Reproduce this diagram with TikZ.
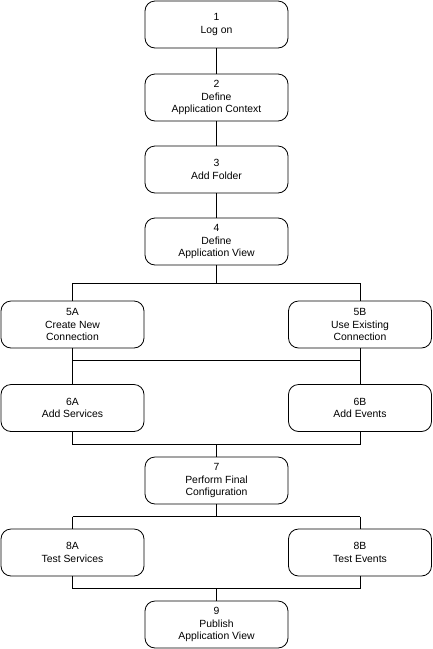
\documentclass[tikz,border=0pt]{standalone}
\usepackage{fontspec}
\setmainfont{Liberation Sans}
\begin{document}
\begin{tikzpicture}[x=1pt,y=-1pt,
  stepbox/.style={draw=black,line width=0.8pt,rounded corners=10pt,minimum width=143pt,minimum height=47pt,align=center,inner sep=1pt,font=\fontsize{10.4}{12.6}\selectfont},
  conn/.style={draw=black,line width=0.8pt}]
\useasboundingbox[fill=white] (0,0) rectangle (433,649);
\node[stepbox] (n1) at (216.5,24.5) {1\\Log on};
\node[stepbox] (n2) at (216.5,97.5) {2\\Define\\Application Context};
\node[stepbox] (n3) at (216.5,169.5) {3\\Add Folder};
\node[stepbox] (n4) at (216.5,241.5) {4\\Define\\Application View};
\node[stepbox] (n5a) at (72.5,324.5) {5A\\Create New\\Connection};
\node[stepbox] (n5b) at (360,324.5) {5B\\Use Existing\\Connection};
\node[stepbox] (n6a) at (72.5,408) {6A\\Add Services};
\node[stepbox] (n6b) at (360,408) {6B\\Add Events};
\node[stepbox] (n7) at (216.5,480.5) {7\\Perform Final\\Configuration};
\node[stepbox] (n8a) at (72.5,552.5) {8A\\Test Services};
\node[stepbox] (n8b) at (360,552.5) {8B\\Test Events};
\node[stepbox] (n9) at (216.5,624.5) {9\\Publish\\Application View};
\coordinate (j4) at (216.5,283);
\coordinate (j5) at (216.5,360);
\coordinate (j6) at (216.5,444);
\coordinate (j7) at (216.5,516.5);
\coordinate (j8) at (216.5,588);
\draw[conn] (n1) -- (n2);
\draw[conn] (n2) -- (n3);
\draw[conn] (n3) -- (n4);
\draw[conn] (n4) -- (j4);
\draw[conn] (j4 -| n5a) -- (j4 -| n5b);
\draw[conn] (j4 -| n5a) -- (n5a);
\draw[conn] (j4 -| n5b) -- (n5b);
\draw[conn] (n5a) -- (n6a);
\draw[conn] (n5b) -- (n6b);
\draw[conn] (j5 -| n5a) -- (j5 -| n5b);
\draw[conn] (n6a) -- (j6 -| n6a) -- (j6 -| n6b) -- (n6b);
\draw[conn] (j6) -- (n7);
\draw[conn] (n7) -- (j7);
\draw[conn] (j7 -| n8a) -- (j7 -| n8b);
\draw[conn] (j7 -| n8a) -- (n8a);
\draw[conn] (j7 -| n8b) -- (n8b);
\draw[conn] (n8a) -- (j8 -| n8a) -- (j8 -| n8b) -- (n8b);
\draw[conn] (j8) -- (n9);
\end{tikzpicture}
\end{document}
